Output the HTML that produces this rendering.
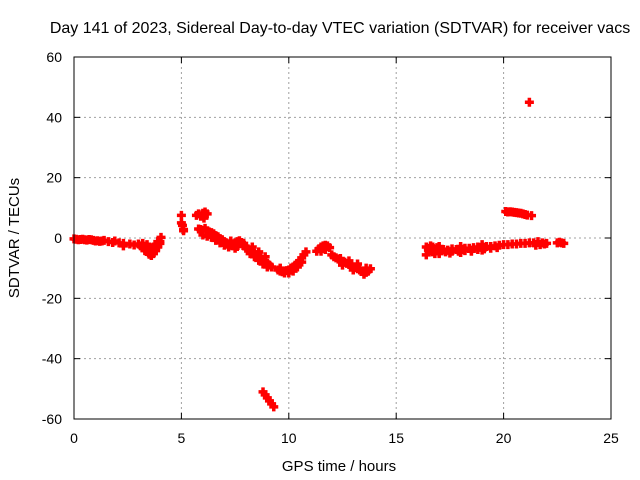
<!DOCTYPE html>
<html><head><meta charset="utf-8">
<style>
html,body{margin:0;padding:0;background:#fff;}
svg{display:block;font-family:"Liberation Sans",sans-serif;}
</style></head>
<body>
<svg id="chart" width="640" height="480">
<rect width="640" height="480" fill="#fff"/>
<text x="340" y="33" font-size="16" text-anchor="middle">Day 141 of 2023, Sidereal Day-to-day VTEC variation (SDTVAR) for receiver vacs</text>
<g id="grid"></g>
<g id="ticks"></g>
<g id="points"></g>
<rect x="74" y="57" width="537" height="362" fill="none" stroke="#000" stroke-width="1"/>
<text x="339" y="471" font-size="15" text-anchor="middle">GPS time / hours</text>
<text transform="translate(19,238) rotate(-90)" font-size="15" text-anchor="middle">SDTVAR / TECUs</text>
</svg>
<script>
const xTicks = [0,5,10,15,20,25];
const yTicks = [-60,-40,-20,0,20,40,60];
const hours = [
0,0.1,0.2,0.3,0.4,0.5,0.6,0.7,0.8,0.9,1.0,1.1,1.2,1.3,1.4,
1.6,1.8,1.9,2.1,2.3,2.3,2.6,2.8,
3.0,3.1,3.2,3.3,3.4,3.5,3.6,3.7,3.8,3.9,4.0,4.05,3.2,3.4,3.5,3.6,3.7,3.8,3.9,
3.3,3.5,3.6,3.7,3.8,3.9,4.0,
5.0,5.0,5.05,5.1,5.1,
5.7,5.8,5.9,6.0,6.1,6.2,6.05,
5.8,5.9,6.0,6.1,6.2,6.3,6.4,6.5,6.6,6.7,6.8,6.9,7.0,6.3,6.5,6.7,6.9,
6.0,6.2,6.4,6.6,6.8,7.0,
7.1,7.2,7.3,7.4,7.5,7.6,7.7,7.8,7.9,8.0,7.3,7.6,7.9,7.2,7.5,
8.1,8.2,8.3,8.4,8.5,8.6,8.7,8.8,8.9,9.0,9.1,9.2,8.3,8.6,8.9,
8.2,8.4,8.6,8.8,9.0,
9.5,9.6,9.7,9.8,9.9,10.0,10.1,10.2,9.6,9.8,10.0,10.2,
10.3,10.4,10.5,10.6,10.7,10.8,10.4,10.6,
11.3,11.4,11.5,11.6,11.7,11.8,11.9,11.5,11.7,
12.0,12.1,12.2,12.3,12.4,12.5,12.6,12.7,12.8,12.9,13.0,13.1,13.2,13.3,13.4,13.5,13.6,13.7,13.8,12.4,12.8,13.2,13.6,
12.5,13.0,13.5,
8.8,8.9,9.0,9.1,9.2,9.3,
16.4,16.5,16.6,16.7,16.8,16.9,16.4,16.6,16.8,16.5,16.7,
17.0,17.2,17.4,17.6,17.8,18.0,18.2,18.4,18.6,18.8,19.0,19.2,19.4,19.6,19.8,
17.0,17.3,17.6,17.9,18.2,18.5,18.8,19.1,19.4,19.7,
17.0,17.5,18.0,18.5,19.0,17.0,18.0,19.0,
20.0,20.2,20.4,20.6,20.8,21.0,21.2,21.4,21.6,21.8,22.0,21.5,21.7,21.9,
22.5,22.6,22.7,22.8,
20.1,20.2,20.3,20.4,20.5,20.6,20.7,20.8,20.9,21.0,21.1,21.3,
21.2
];
const sdtvar = [
-0.3,-0.4,-0.6,-0.5,-0.4,-0.6,-0.7,-0.5,-0.6,-0.8,-1.0,-0.9,-1.1,-1.0,-0.8,
-1.2,-1.5,-1.0,-1.6,-1.8,-2.6,-2.0,-2.3,
-2.0,-2.6,-3.2,-3.6,-4.2,-4.6,-5.0,-4.6,-3.8,-2.6,-1.2,0.2,-1.8,-2.2,-3.0,-3.4,-3.0,-2.4,-1.2,
-4.2,-5.4,-5.8,-5.2,-4.2,-3.0,-1.8,
7.5,5.0,4.2,2.8,2.4,
7.5,8.0,7.2,8.2,8.6,8.0,6.6,
3.0,2.8,2.5,3.2,2.4,2.0,1.8,1.4,0.8,0.4,-0.2,-0.6,-1.2,1.2,0.6,-0.4,-1.4,
1.0,0.6,0.2,-0.8,-1.6,-2.4,
-1.6,-2.0,-2.4,-2.6,-1.6,-1.2,-0.9,-1.5,-2.6,-3.4,-1.0,-2.8,-1.8,-3.0,-3.4,
-3.6,-4.0,-4.6,-5.0,-5.6,-6.2,-6.6,-7.2,-7.8,-8.4,-9.0,-9.6,-3.0,-4.6,-6.2,
-5.2,-6.2,-7.4,-8.6,-9.6,
-10.6,-11.0,-11.2,-11.0,-10.8,-10.6,-10.0,-9.6,-10.0,-11.6,-11.6,-11.0,
-9.0,-8.4,-7.6,-6.6,-5.6,-4.6,-9.6,-8.0,
-4.4,-3.6,-3.0,-2.6,-2.4,-2.6,-3.2,-4.4,-3.8,
-5.6,-6.2,-6.6,-7.0,-7.4,-7.8,-8.0,-8.4,-8.8,-9.2,-9.6,-9.8,-10.2,-10.6,-11.0,-11.2,-11.4,-11.0,-10.2,-6.8,-7.6,-8.6,-10.0,
-9.0,-10.6,-12.0,
-51,-52,-53,-54,-55,-56,
-3.0,-3.4,-4.0,-4.6,-5.2,-3.2,-5.6,-2.6,-4.4,-4.0,-3.0,
-3.6,-3.8,-4.0,-3.6,-3.8,-3.6,-3.4,-3.4,-3.2,-3.0,-3.0,-2.8,-2.8,-2.6,-2.4,
-4.8,-4.6,-4.4,-4.4,-4.2,-4.0,-3.8,-3.6,-3.4,-3.2,
-5.2,-5.0,-4.8,-4.4,-4.0,-2.8,-2.8,-2.2,
-2.2,-2.2,-2.0,-2.0,-1.8,-1.8,-1.6,-1.6,-1.2,-1.6,-1.8,-2.4,-2.2,-2.0,
-1.6,-1.4,-1.6,-1.8,
8.8,8.6,8.7,8.6,8.5,8.4,8.3,8.2,8.0,7.8,7.6,7.4,
45
];
const X0=74,X1=611,Y0=419,Y1=57;
const sx = v => X0 + (v-0)/(25-0)*(X1-X0);
const sy = v => Y0 - (v+60)/(120)*(Y0-Y1);
const NS='http://www.w3.org/2000/svg';
const grid=document.getElementById('grid'), ticks=document.getElementById('ticks'), pts=document.getElementById('points');
function mk(tag,attrs,parent){const e=document.createElementNS(NS,tag);for(const k in attrs)e.setAttribute(k,attrs[k]);parent.appendChild(e);return e;}
xTicks.forEach(t=>{
  const x=sx(t);
  if(t>0&&t<25){const g=mk('line',{x1:x,x2:x,y1:Y1,y2:Y0,stroke:'#a0a0a0','stroke-dasharray':'2,3','stroke-width':1},grid);
  
  }
  mk('line',{x1:x,x2:x,y1:Y0,y2:Y0-6,stroke:'#000'},ticks);
  mk('line',{x1:x,x2:x,y1:Y1,y2:Y1+6,stroke:'#000'},ticks);
  const l=mk('text',{x:x,y:443,'font-size':14,'text-anchor':'middle'},ticks);l.textContent=t;
  
  
});
yTicks.forEach(t=>{
  const y=sy(t);
  if(t>-60&&t<60){const g=mk('line',{x1:X0,x2:X1,y1:y,y2:y,stroke:'#a0a0a0','stroke-dasharray':'2,3','stroke-width':1},grid);
  
  }
  mk('line',{x1:X0,x2:X0+6,y1:y,y2:y,stroke:'#000'},ticks);
  mk('line',{x1:X1,x2:X1-6,y1:y,y2:y,stroke:'#000'},ticks);
  const l=mk('text',{x:62,y:y+5,'font-size':14,'text-anchor':'end'},ticks);l.textContent=t;
  
  
});
hours.forEach((h,i)=>{
  const x=sx(h), y=sy(sdtvar[i]);
  const p=mk('path',{d:`M${x-4.5},${y}H${x+4.5}M${x},${y-4.5}V${y+4.5}`,stroke:'#f00','stroke-width':3.5},pts);
  
  
});
</script>
</body></html>
